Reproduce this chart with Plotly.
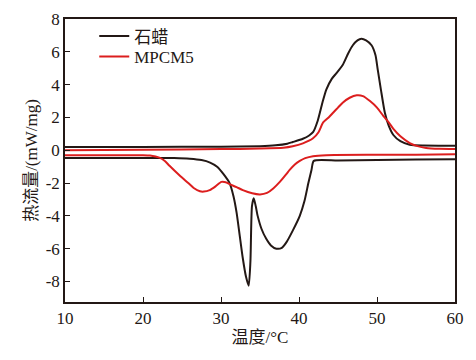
import plotly.graph_objects as go

# 石蜡 heating (upper) curve
pw_heat_x = [10, 20, 30, 35, 37, 38.5, 39.2, 40.5, 41.3, 41.8, 42.4, 43.0, 43.5, 44.2, 44.8, 45.6, 46.3, 46.9, 47.5, 48.0, 48.6, 49.3, 49.8, 50.1, 50.5, 51.0, 51.5, 52.1, 53.0, 54.2, 56, 60]
pw_heat_y = [0.2, 0.2, 0.22, 0.25, 0.3, 0.4, 0.5, 0.7, 0.9, 1.1, 1.8, 2.9, 3.7, 4.35, 4.7, 5.2, 5.9, 6.4, 6.7, 6.8, 6.7, 6.4, 5.8, 4.9, 3.7, 2.3, 1.5, 0.93, 0.55, 0.34, 0.29, 0.28]

# 石蜡 cooling (lower) curve
pw_cool_x = [10, 20, 24, 26, 27.5, 28.6, 29.5, 30.3, 31.1, 31.6, 32.0, 32.4, 32.8, 33.2, 33.55, 33.77, 33.97, 34.2, 34.45, 34.7, 35.2, 35.8, 36.4, 37.1, 37.8, 38.4, 39.2, 40.1, 40.7, 41.2, 41.6, 41.9, 45, 50, 55, 60]
pw_cool_y = [-0.47, -0.47, -0.48, -0.52, -0.6, -0.75, -1.0, -1.44, -2.0, -2.8, -3.8, -5.2, -6.6, -7.7, -8.26, -6.8, -3.4, -2.92, -3.4, -4.0, -4.8, -5.4, -5.8, -6.0, -5.95, -5.6, -4.9, -4.0, -3.1, -2.0, -1.2, -0.65, -0.63, -0.6, -0.57, -0.55]

# MPCM5 heating (upper) curve
mp_heat_x = [10, 20, 30, 35, 38, 39.2, 40.5, 41.8, 42.5, 43.1, 43.8, 44.4, 45.0, 45.6, 46.5, 47.4, 48.2, 49.1, 50.0, 50.8, 51.5, 52.1, 53.0, 54.2, 55.2, 56.3, 58, 60]
mp_heat_y = [0.0, 0.03, 0.07, 0.1, 0.15, 0.24, 0.42, 0.73, 1.1, 1.7, 2.0, 2.3, 2.6, 2.9, 3.2, 3.35, 3.3, 3.0, 2.6, 2.1, 1.7, 1.3, 0.85, 0.44, 0.25, 0.14, 0.09, 0.08]

# MPCM5 cooling (lower) curve
mp_cool_x = [10, 20, 20.9, 22.1, 22.8, 23.4, 24.7, 25.8, 26.5, 27.3, 27.8, 28.55, 29.3, 30.05, 30.6, 31.1, 32.0, 32.8, 34.0, 35.0, 35.9, 36.7, 37.6, 38.4, 38.8, 39.5, 40.1, 40.8, 41.8, 43.5, 50, 55, 60]
mp_cool_y = [-0.3, -0.3, -0.32, -0.45, -0.65, -0.95, -1.54, -2.0, -2.3, -2.5, -2.52, -2.43, -2.2, -1.93, -1.95, -2.07, -2.25, -2.43, -2.62, -2.69, -2.6, -2.33, -1.9, -1.44, -1.2, -0.85, -0.65, -0.48, -0.36, -0.3, -0.28, -0.27, -0.25]

x_ticks = [10, 20, 30, 40, 50, 60]
x_tick_labels = ["10", "20", "30", "40", "50", "60"]
y_ticks = [-8, -6, -4, -2, 0, 2, 4, 6, 8]
y_tick_labels = ["-8", "-6", "-4", "-2", "0", "2", "4", "6", "8"]

BLACK = "#231815"
RED = "#dc1e1e"
SERIF = "Liberation Serif"
CJK = "Noto Sans CJK SC"
MIXED = SERIF + ", " + CJK

fig = go.Figure()
fig.add_trace(go.Scatter(x=pw_heat_x, y=pw_heat_y, mode="lines", name="石蜡",
                         line=dict(color=BLACK, width=2, shape="spline", smoothing=0.6),
                         legend="legend"))
fig.add_trace(go.Scatter(x=pw_cool_x, y=pw_cool_y, mode="lines", name="石蜡",
                         line=dict(color=BLACK, width=2, shape="spline", smoothing=0.6),
                         showlegend=False))
fig.add_trace(go.Scatter(x=mp_heat_x, y=mp_heat_y, mode="lines", name="MPCM5",
                         line=dict(color=RED, width=2, shape="spline", smoothing=0.6),
                         legend="legend2"))
fig.add_trace(go.Scatter(x=mp_cool_x, y=mp_cool_y, mode="lines", name="MPCM5",
                         line=dict(color=RED, width=2, shape="spline", smoothing=0.6),
                         showlegend=False))

leg_common = dict(xanchor="left", yanchor="middle", bgcolor="rgba(0,0,0,0)",
                  font=dict(family=MIXED, size=17, color=BLACK), itemwidth=30)

fig.update_layout(
    width=476, height=360,
    margin=dict(l=65, r=21, t=10, b=58),
    paper_bgcolor="white", plot_bgcolor="white",
    font=dict(family=MIXED, size=17, color=BLACK),
    showlegend=True,
    legend=dict(x=0.075, y=0.938, **leg_common),
    legend2=dict(x=0.075, y=0.866, **leg_common),
    xaxis=dict(range=[10, 60], tickvals=x_ticks, ticktext=x_tick_labels,
               ticks="inside", ticklen=5, tickcolor=BLACK,
               tickfont=dict(family=SERIF, size=17, color=BLACK),
               showline=True, linecolor=BLACK, linewidth=1.5, mirror=True,
               showgrid=False, zeroline=False,
               title=dict(text="温度/°C", standoff=4,
                          font=dict(family=MIXED, size=17, color=BLACK))),
    yaxis=dict(range=[-9.25, 8], tickvals=y_ticks, ticktext=y_tick_labels,
               ticks="inside", ticklen=5, tickcolor=BLACK,
               tickfont=dict(family=SERIF, size=17, color=BLACK),
               showline=True, linecolor=BLACK, linewidth=1.5, mirror=True,
               showgrid=False, zeroline=False,
               title=dict(text="热流量/(mW/mg)", standoff=4,
                          font=dict(family=MIXED, size=17, color=BLACK))),
)

fig.write_html("out.html",
               config={"displayModeBar": False},
               post_script="document.body.style.margin='0';document.body.style.padding='0';")
